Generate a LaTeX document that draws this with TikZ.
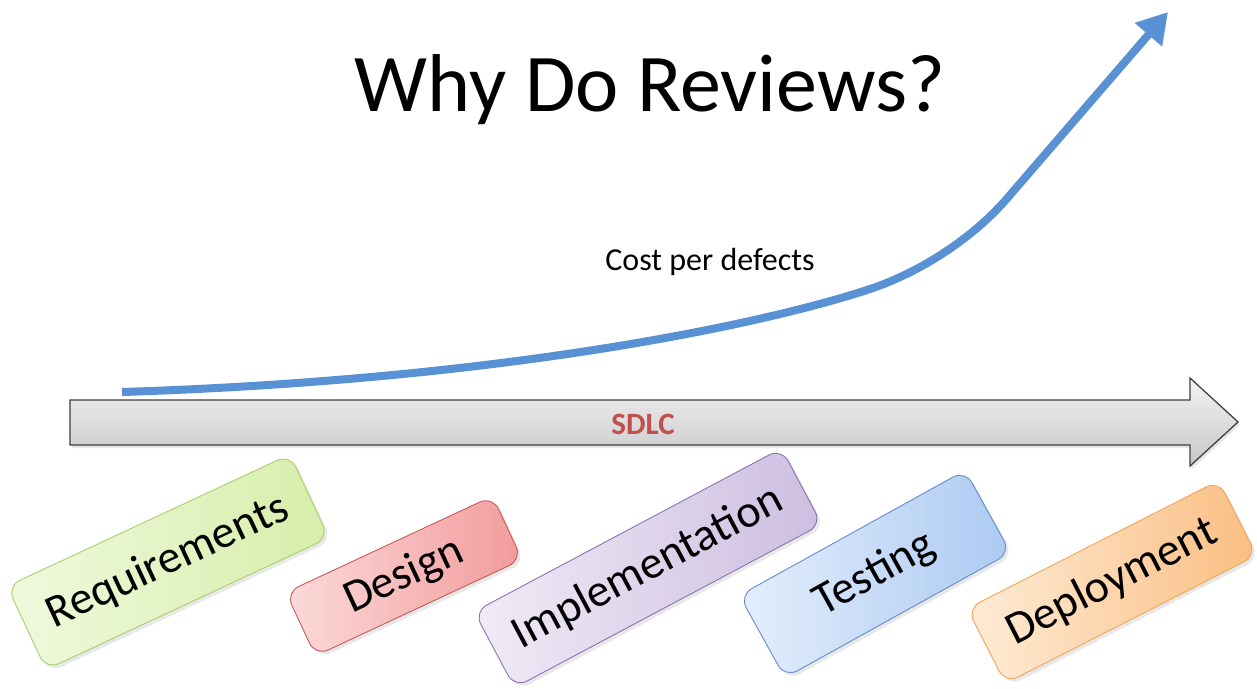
\documentclass[tikz,border=0pt]{standalone}
\usepackage{fontspec}
\setmainfont{Carlito}
\usetikzlibrary{arrows.meta,shadows}
\definecolor{curveblue}{RGB}{88,145,212}
\definecolor{sdlcred}{RGB}{192,80,77}
\definecolor{reqA}{RGB}{240,249,222}\definecolor{reqB}{RGB}{214,238,170}\definecolor{reqD}{RGB}{170,205,110}
\definecolor{desA}{RGB}{252,218,218}\definecolor{desB}{RGB}{242,155,155}\definecolor{desD}{RGB}{200,90,90}
\definecolor{impA}{RGB}{240,235,246}\definecolor{impB}{RGB}{205,190,225}\definecolor{impD}{RGB}{140,115,175}
\definecolor{tesA}{RGB}{228,238,252}\definecolor{tesB}{RGB}{172,202,242}\definecolor{tesD}{RGB}{100,140,200}
\definecolor{depA}{RGB}{254,236,214}\definecolor{depB}{RGB}{250,190,130}\definecolor{depD}{RGB}{240,165,90}
\tikzset{
  phase/.style={draw=#1D, line width=0.9pt, rounded corners=14pt, left color=#1A, right color=#1B,
    minimum height=92pt, inner sep=0pt, font=\fontsize{46}{50}\selectfont,
    drop shadow={opacity=0.18, shadow xshift=3pt, shadow yshift=-3pt}},
  costcurve/.style={draw=curveblue, line width=8pt, -{Triangle[width=34pt,length=30pt]}},
}
\begin{document}
\begin{tikzpicture}[x=1pt,y=-1pt]
\useasboundingbox (0,0) rectangle (1257,688);
% title
\node (title) at (650,90) {\fontsize{82}{90}\selectfont Why Do Reviews?};
% SDLC arrow
\draw[draw=black!75, line width=1.3pt, top color=black!5, bottom color=black!22,
  drop shadow={opacity=0.2, shadow xshift=2pt, shadow yshift=-3pt}]
  (70,400) -- (1190,400) -- (1190,378) -- (1238,422) -- (1190,466) -- (1190,445) -- (70,445) -- cycle;
\node[text=sdlcred, font=\bfseries\fontsize{31}{34}\selectfont] (sdlc) at (643,424) {SDLC};
% cost curve
\coordinate (c0) at (122,392);
\coordinate (c1) at (867,290);
\coordinate (c2) at (1010,195);
\coordinate (c3) at (1168,12);
\draw[costcurve] (c0) .. controls (500,380) and (760,325) .. (c1)
  .. controls (920,273) and (975,237) .. (c2) -- (c3);
\node[font=\fontsize{32}{36}\selectfont] (cost) at (710,262) {Cost per defects};
% phases
\node[phase=req, minimum width=312pt, rotate=25] (req) at (168,562) {Requirements};
\node[phase=des, minimum width=228pt, minimum height=70pt, rotate=25] (des) at (404,576) {Design};
\node[phase=imp, minimum width=348pt, minimum height=86pt, rotate=28] (imp) at (648,568) {Implementation};
\node[phase=tes, minimum width=258pt, minimum height=94pt, rotate=29] (tes) at (875,574) {Testing};
\node[phase=dep, minimum width=282pt, minimum height=84pt, rotate=27] (dep) at (1112,582) {Deployment};
\end{tikzpicture}
\end{document}
